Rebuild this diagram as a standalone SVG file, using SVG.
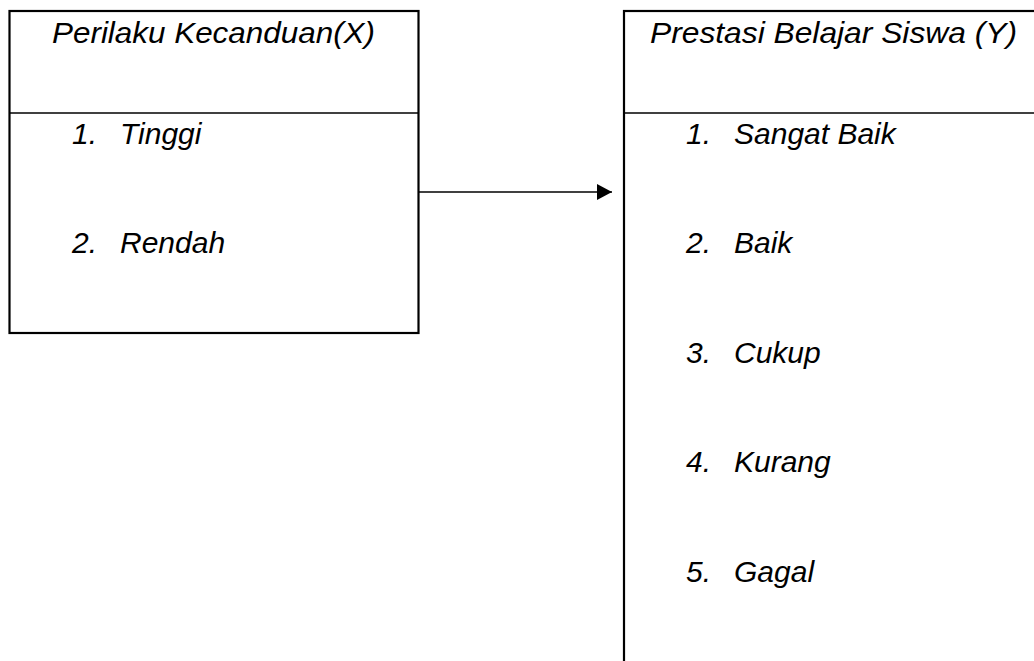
<svg xmlns="http://www.w3.org/2000/svg" width="1034" height="661" viewBox="0 0 1034 661">
<style>
.box{fill:#fff;stroke:#000;stroke-width:2.2}
.div{stroke:#000;stroke-width:1.5}
.t{font-family:"Liberation Sans",Arial,sans-serif;font-style:italic;font-size:30px;fill:#000}
.c{text-anchor:middle}
</style>
<defs>
<marker id="ah" markerWidth="16" markerHeight="16" refX="15" refY="8" orient="auto" markerUnits="userSpaceOnUse">
<path d="M0,0 L15,8 L0,16 Z" fill="#000"/>
</marker>
</defs>
<rect width="1034" height="661" fill="#fff"/>
<g id="nodeX">
<rect class="box" x="9.5" y="11" width="409" height="322"/>
<line class="div" x1="9.5" y1="113" x2="418.5" y2="113"/>
<text class="t c" x="213.5" y="43" textLength="323" lengthAdjust="spacingAndGlyphs">Perilaku Kecanduan(X)</text>
<text class="t" x="72" y="144">1.</text>
<text class="t" x="120" y="144">Tinggi</text>
<text class="t" x="72" y="253">2.</text>
<text class="t" x="120" y="253">Rendah</text>
</g>
<g id="nodeY">
<rect class="box" x="624" y="11" width="430" height="680"/>
<line class="div" x1="624" y1="113" x2="1040" y2="113"/>
<text class="t c" x="833.5" y="43" textLength="367" lengthAdjust="spacingAndGlyphs">Prestasi Belajar Siswa (Y)</text>
<text class="t" x="686" y="144">1.</text>
<text class="t" x="734" y="144">Sangat Baik</text>
<text class="t" x="686" y="253">2.</text>
<text class="t" x="734" y="253">Baik</text>
<text class="t" x="686" y="363">3.</text>
<text class="t" x="734" y="363">Cukup</text>
<text class="t" x="686" y="472">4.</text>
<text class="t" x="734" y="472">Kurang</text>
<text class="t" x="686" y="582">5.</text>
<text class="t" x="734" y="582">Gagal</text>
</g>
<g id="connectors">
<line x1="418" y1="192" x2="612" y2="192" stroke="#000" stroke-width="1.5" marker-end="url(#ah)"/>
</g>
</svg>
